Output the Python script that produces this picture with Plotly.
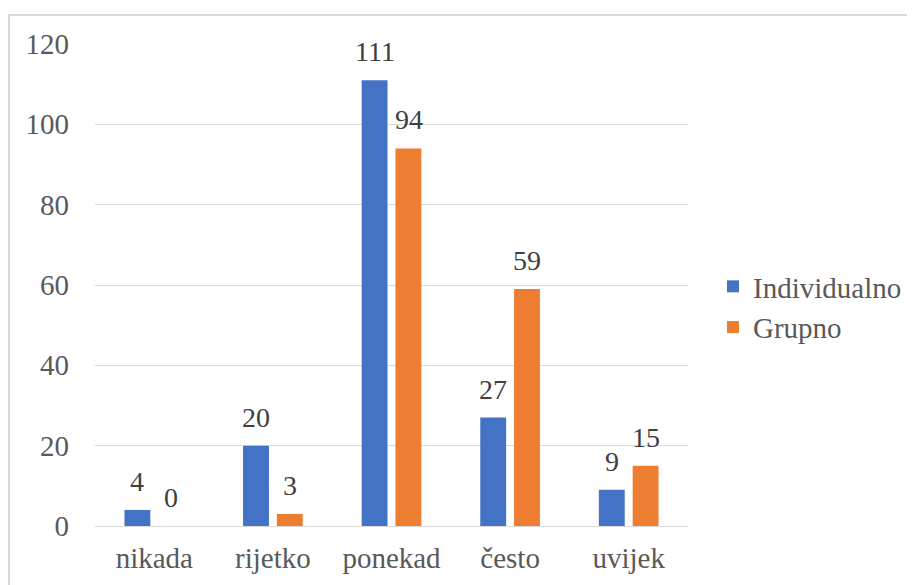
import plotly.graph_objects as go

categories = ["nikada", "rijetko", "ponekad", "često", "uvijek"]
individualno = [4, 20, 111, 27, 9]
grupno = [0, 3, 94, 59, 15]
series_names = ["Individualno", "Grupno"]
colors = ["#4472C4", "#ED7D31"]
yticks = [0, 20, 40, 60, 80, 100, 120]

FONT = "Liberation Serif, Times New Roman, serif"

# page has an 8px body margin; figure coordinates are offset accordingly
W, H = 907, 577
L, T = 87, 36
pw, ph = 593, 482
R = W - L - pw
B = H - T - ph

fig = go.Figure()
for name, vals, col in zip(series_names, [individualno, grupno], colors):
    fig.add_trace(go.Bar(
        x=categories, y=vals, name=name, marker=dict(color=col, line=dict(width=0)),
    ))

annotations = []
for vals, shift in zip([individualno, grupno], [-17, 17]):
    for c, v in zip(categories, vals):
        annotations.append(dict(x=c, y=v, xref="x", yref="y", text=str(v), showarrow=False,
                                xanchor="center", yanchor="bottom", xshift=shift, yshift=11,
                                font=dict(family=FONT, size=28, color="#404040")))

fig.update_layout(
    width=W, height=H,
    margin=dict(l=L, r=R, t=T, b=B, pad=0, autoexpand=False),
    paper_bgcolor="white", plot_bgcolor="white",
    barmode="group", bargap=0.43, bargroupgap=0.235,
    font=dict(family=FONT, size=29, color="#595959"),
    showlegend=True,
    legend=dict(x=(713 - 8 - L) / pw, y=(518 - (307 - 8)) / ph,
                xanchor="left", yanchor="middle",
                font=dict(family=FONT, size=29, color="#595959"),
                itemwidth=30, tracegroupgap=0, bgcolor="rgba(0,0,0,0)"),
    xaxis=dict(showgrid=False, showline=False, ticks="", ticklabelstandoff=12,
               tickfont=dict(family=FONT, size=29, color="#595959")),
    yaxis=dict(range=[0, 120], tickvals=yticks, showgrid=True, gridcolor="#D9D9D9",
               gridwidth=1.3, zeroline=True, zerolinecolor="#D9D9D9", zerolinewidth=1.3,
               showline=False, ticks="", ticklabelstandoff=25,
               tickfont=dict(family=FONT, size=29, color="#595959")),
    annotations=annotations,
    shapes=[dict(type="rect", xref="paper", yref="paper",
                 x0=(1 - L) / pw, x1=(940 - L) / pw,
                 y0=(518 - 620) / ph, y1=(518 - 7) / ph,
                 line=dict(color="#D9D9D9", width=2), fillcolor="rgba(0,0,0,0)", layer="below")],
)

fig.write_html("out.html")
